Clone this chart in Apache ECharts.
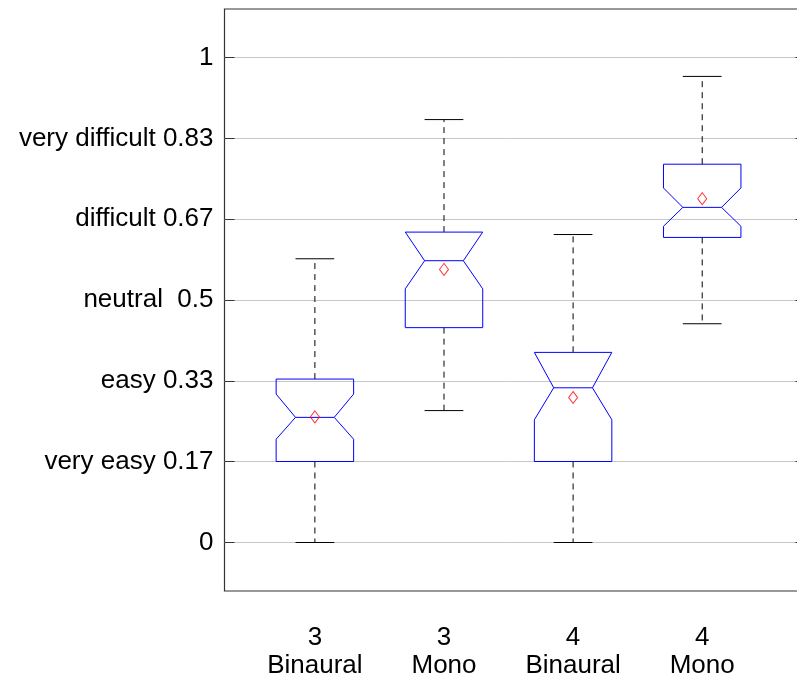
<!DOCTYPE html>
<html>
<head>
<meta charset="utf-8">
<script src="https://cdn.jsdelivr.net/npm/echarts@6/dist/echarts.min.js"></script>
<style>
html,body{margin:0;padding:0;background:#fff;}
#chart{width:797px;height:677px;}
</style>
</head>
<body>
<div id="chart"></div>
<script>
// Category labels (two lines each)
var groupTop = ['3', '3', '4', '4'];
var groupBottom = ['Binaural', 'Mono', 'Binaural', 'Mono'];
var groupPos = [1, 2, 3, 4];

// Box statistics
var whiskerLow  = [0.000, 0.272, 0.000, 0.451];
var q1          = [0.167, 0.443, 0.167, 0.629];
var notchLow    = [0.213, 0.523, 0.253, 0.652];
var median      = [0.258, 0.581, 0.319, 0.691];
var notchHigh   = [0.306, 0.640, 0.392, 0.731];
var q3          = [0.337, 0.640, 0.392, 0.780];
var whiskerHigh = [0.585, 0.872, 0.635, 0.961];
var means       = [0.259, 0.563, 0.299, 0.709];

// Y tick values and labels
var yTickValues = [0, 1/6, 2/6, 0.5, 4/6, 5/6, 1];
var yTickLabels = ['0', 'very easy 0.17', 'easy 0.33', 'neutral  0.5', 'difficult 0.67', 'very difficult 0.83', '1'];

var FONT = "'Liberation Sans', Arial, Helvetica, sans-serif";
var boxHalf = 0.3;

var boxData = groupPos.map(function (x, i) {
  return [x, whiskerLow[i], q1[i], notchLow[i], median[i], notchHigh[i], q3[i], whiskerHigh[i]];
});
var meanData = groupPos.map(function (x, i) { return [x, means[i]]; });

function renderBox(params, api) {
  var x = api.value(0);
  var wl = api.value(1), b1 = api.value(2), nl = api.value(3), md = api.value(4),
      nh = api.value(5), b3 = api.value(6), wh = api.value(7);
  var w = boxHalf, n = boxHalf / 2;
  var pts = [
    [x - w, b1], [x - w, nl], [x - n, md], [x - w, nh], [x - w, b3],
    [x + w, b3], [x + w, nh], [x + n, md], [x + w, nl], [x + w, b1]
  ].map(function (p) { return api.coord(p); });
  var c = function (a, b) { return api.coord([a, b]); };
  var dash = { stroke: '#000', lineWidth: 1, lineDash: [6, 5] };
  var solid = { stroke: '#000', lineWidth: 1 };
  return {
    type: 'group',
    children: [
      { type: 'line', shape: { x1: c(x, b3)[0], y1: c(x, b3)[1], x2: c(x, wh)[0], y2: c(x, wh)[1] }, style: dash },
      { type: 'line', shape: { x1: c(x, b1)[0], y1: c(x, b1)[1], x2: c(x, wl)[0], y2: c(x, wl)[1] }, style: dash },
      { type: 'line', shape: { x1: c(x - n, wh)[0], y1: c(x - n, wh)[1], x2: c(x + n, wh)[0], y2: c(x + n, wh)[1] }, style: solid },
      { type: 'line', shape: { x1: c(x - n, wl)[0], y1: c(x - n, wl)[1], x2: c(x + n, wl)[0], y2: c(x + n, wl)[1] }, style: solid },
      { type: 'polygon', shape: { points: pts }, style: { fill: 'none', stroke: '#0000ff', lineWidth: 1 } },
      { type: 'line', shape: { x1: c(x - n, md)[0], y1: c(x - n, md)[1], x2: c(x + n, md)[0], y2: c(x + n, md)[1] }, style: { stroke: '#0000ff', lineWidth: 1 } }
    ]
  };
}

var chart = echarts.init(document.getElementById('chart'), null, { renderer: 'canvas' });
chart.setOption({
  animation: false,
  backgroundColor: '#fff',
  grid: {
    left: 224.5, top: 9, bottom: 86, right: -8.5,
    outerBoundsMode: 'none',
    containLabel: false,
    show: true, borderColor: '#333', borderWidth: 1.2, backgroundColor: 'transparent'
  },
  xAxis: {
    type: 'value', min: 0.3, max: 4.8,
    axisLine: { show: false },
    axisTick: { show: false },
    splitLine: { show: false },
    axisLabel: {
      customValues: groupPos,
      margin: 33,
      fontFamily: FONT, fontSize: 26, color: '#000', lineHeight: 28,
      formatter: function (v) {
        var i = groupPos.indexOf(Math.round(v));
        return i < 0 ? '' : groupTop[i] + '\n' + groupBottom[i];
      }
    }
  },
  yAxis: [{
    type: 'value', min: -0.1, max: 1.1,
    axisLine: { show: false },
    axisTick: { show: true, inside: true, length: 10, customValues: yTickValues, lineStyle: { color: '#333' } },
    splitLine: { show: true, lineStyle: { color: '#c8c8c8', width: 1 } },
    axisLabel: {
      customValues: yTickValues,
      margin: 11,
      fontFamily: FONT, fontSize: 26, color: '#000',
      formatter: function (v) {
        for (var i = 0; i < yTickValues.length; i++) {
          if (Math.abs(yTickValues[i] - v) < 1e-6) return yTickLabels[i];
        }
        return '';
      }
    }
  }, {
    type: 'value', min: -0.1, max: 1.1, position: 'right',
    axisLine: { show: false },
    axisTick: { show: true, inside: true, length: 10, customValues: yTickValues, lineStyle: { color: '#333' } },
    splitLine: { show: false },
    axisLabel: { show: false }
  }],
  series: [{
    type: 'custom',
    renderItem: renderBox,
    data: boxData,
    encode: { x: 0, y: [1, 2, 3, 4, 5, 6, 7] },
    z: 3
  }, {
    type: 'scatter',
    data: meanData,
    symbol: 'diamond',
    symbolSize: [9, 12],
    itemStyle: { color: 'rgba(255,255,255,0)', borderColor: '#ff0000', borderWidth: 1 },
    z: 4
  }]
});
</script>
</body>
</html>
